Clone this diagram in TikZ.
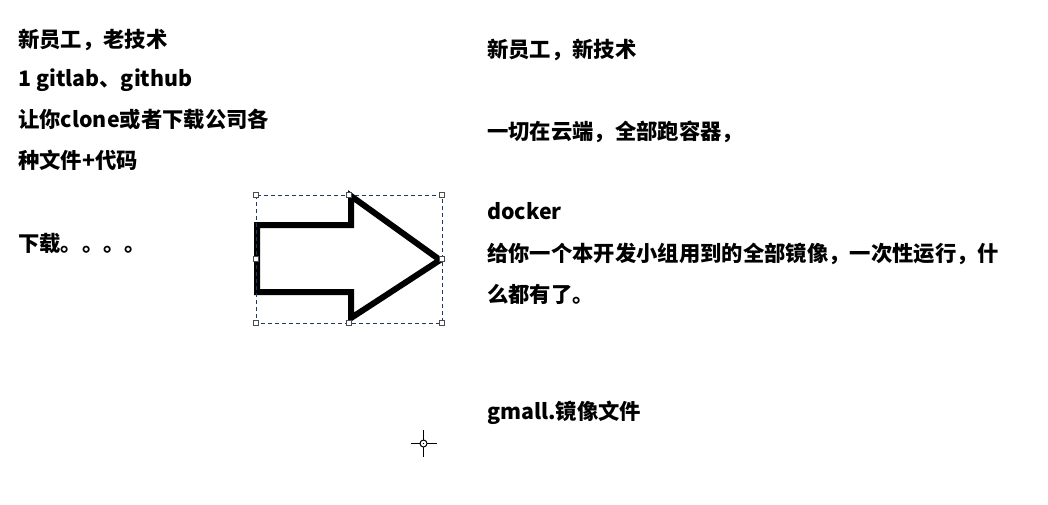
\documentclass[tikz,border=0pt]{standalone}
\usepackage{fontspec}
\setmainfont{Noto Sans CJK SC}
\begin{document}
\begin{tikzpicture}[x=1pt,y=-1pt,
  txt/.style={anchor=base west,inner sep=0pt,font=\fontsize{21.33}{25}\selectfont\bfseries},
  handle/.style={draw=black!70,fill=white,line width=0.8pt,minimum size=5pt,inner sep=0pt},
  selbox/.style={draw={rgb,255:red,31;green,56;blue,100},dashed,line width=1pt,dash pattern=on 4pt off 3pt}]
\useasboundingbox (0,0) rectangle (1048,504);
\fill[white] (0,0) rectangle (1048,504);
% left column
\node[txt] (l1) at (18,47) {新员工，老技术};
\node[txt] (l2) at (18,86) {1 gitlab、github};
\node[txt] (l3) at (18,127) {让你clone或者下载公司各};
\node[txt] (l4) at (18,168) {种文件+代码};
\node[txt] (l5) at (18,251) {下载。。。。};
% right column
\node[txt] (r1) at (487,57) {新员工，新技术};
\node[txt] (r2) at (487,139) {一切在云端，全部跑容器，};
\node[txt] (r3) at (487,219) {docker};
\node[txt] (r4) at (487,261) {给你一个本开发小组用到的全部镜像，一次性运行，什};
\node[txt] (r5) at (487,302) {么都有了。};
\node[txt] (r6) at (487,419) {gmall.镜像文件};
% block arrow
\draw[line width=6pt,line join=miter,fill=white] (257,225) -- (351,225) -- (351,196) -- (440,260) -- (351,318) -- (351,292) -- (257,292) -- cycle;
% selection frame
\draw[selbox] (256,195) rectangle (442,323);
\foreach \p in {(256,195),(349,195),(442,195),(256,259),(442,259),(256,323),(349,323),(442,323)}
  \node[handle] at \p {};
% crosshair cursor
\draw[line width=1pt] (423.5,443.5) circle (3.5);
\draw[line width=1pt] (410.5,443.5) -- (420,443.5) (427,443.5) -- (436.5,443.5)
  (423.5,430) -- (423.5,440) (423.5,447) -- (423.5,456.5);
\fill (423.5,443.5) circle (0.7);
\end{tikzpicture}
\end{document}
